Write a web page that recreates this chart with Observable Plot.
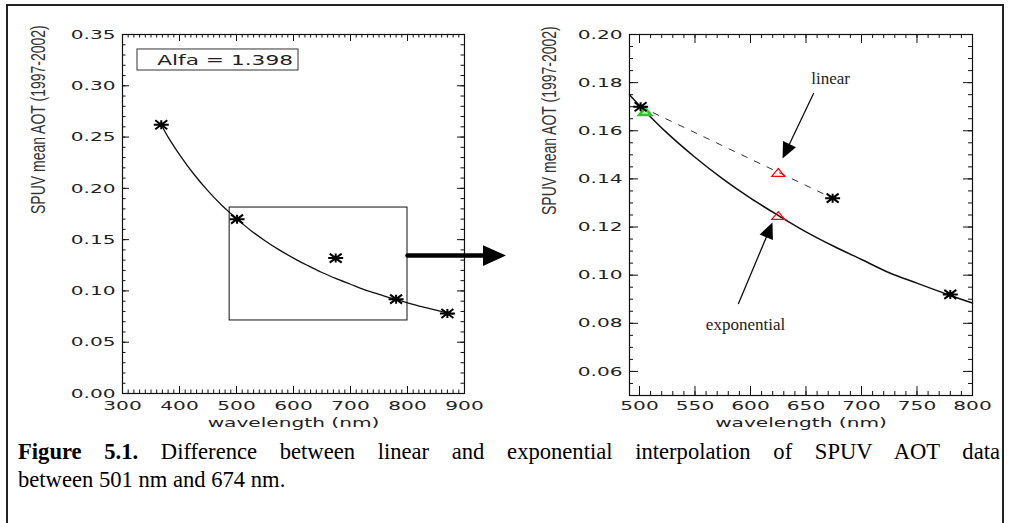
<!DOCTYPE html>
<html><head><meta charset="utf-8">
<script src="https://cdn.jsdelivr.net/npm/d3@7"></script>
<script src="https://cdn.jsdelivr.net/npm/@observablehq/plot@0.6"></script>
<style>
body{margin:0;background:#fff;}
#wrap{position:relative;width:1011px;height:523px;overflow:hidden;background:#fff;}
#wrap > *{position:absolute;}
#border{left:6px;top:4px;width:998px;height:560px;border:2px solid #222;box-sizing:border-box;}
</style></head><body><div id="wrap"><div id="border"></div></div>
<script>
// ---------- data ----------
const obsWavelength = [368, 501, 674, 780, 870];
const obsAot = [0.262, 0.170, 0.132, 0.092, 0.078];
const fitWavelength = [368, 380, 400, 425, 450, 475, 491, 501, 525, 550, 575, 600, 625, 650, 675, 700, 725, 750, 775, 800, 825, 850, 880];
const fitAot = [0.262, 0.250, 0.233, 0.214, 0.1975, 0.183, 0.175, 0.170, 0.159, 0.149, 0.140, 0.132, 0.1248, 0.118, 0.112, 0.1065, 0.101, 0.0967, 0.0924, 0.0884, 0.0846, 0.0812, 0.0774];
const alfaText = "Alfa = 1.398";
const zoomBox = {x1: 488, x2: 800, y1: 0.0712, y2: 0.1813};
const zoomStarWavelength = [501, 674, 780];
const zoomStarAot = [0.170, 0.132, 0.092];
const linearWavelength = [501, 674];
const linearAot = [0.170, 0.132];
const interpWavelength = 625;
const linearInterpAot = 0.1427;
const expInterpAot = 0.1248;
const greenWavelength = 505, greenAot = 0.168;
const yLabel = "SPUV mean AOT (1997-2002)";
const xLabel = "wavelength (nm)";
const captionBold = "Figure 5.1.";
const captionLine1 = " Difference between linear and exponential interpolation of SPUV AOT data";
const captionLine2 = "between 501 nm and 674 nm.";
// left panel ticks
const leftXMajor = [300, 400, 500, 600, 700, 800, 900];
const leftXMinor = d3.range(300, 901, 10);
const leftYMajor = [0, 5, 10, 15, 20, 25, 30, 35].map(v => v / 100);
const leftYMinor = d3.range(0, 36).map(v => v / 100);
// right panel ticks
const rightXMajor = [500, 550, 600, 650, 700, 750, 800];
const rightXMinor = d3.range(500, 801, 10);
const rightYMajor = [6, 8, 10, 12, 14, 16, 18, 20].map(v => v / 100);
const rightYMinor = d3.range(10, 41).map(v => v / 200);
// annotations (data units)
const bigArrow = {x1: 800, x2: 933, y: 0.1345, headX: 952.6};
const linearArrow = {x1: 656.8, y1: 0.1755, x2: 632.0, y2: 0.1515, angle: 115.8, label: "linear", lx: 672.1, ly: 0.1817};
const expArrow = {x1: 589.2, y1: 0.0882, x2: 617.0, y2: 0.1188, angle: -67.2, label: "exponential", lx: 595.5, ly: 0.0795};

// ---------- helpers ----------
const starSymbol = {draw(ctx, size) {
  const r = Math.sqrt(size / Math.PI), w = r, h = r * 0.6;
  ctx.moveTo(-w, 0); ctx.lineTo(w, 0);
  ctx.moveTo(0, -h); ctx.lineTo(0, h);
  ctx.moveTo(-w * 0.8, -h); ctx.lineTo(w * 0.8, h);
  ctx.moveTo(-w * 0.8, h); ctx.lineTo(w * 0.8, -h);
}};
const triSymbol = {draw(ctx, size) {
  const r = Math.sqrt(size / Math.PI);
  ctx.moveTo(0, -r * 0.6); ctx.lineTo(r, r * 0.6); ctx.lineTo(-r, r * 0.6); ctx.closePath();
}};
const headSymbol = {draw(ctx, size) {
  const r = Math.sqrt(size / Math.PI);
  ctx.moveTo(r, 0); ctx.lineTo(-r, -r * 0.9); ctx.lineTo(-r, r * 0.9); ctx.closePath();
}};

const SANS = "DejaVu Sans";
const TICKFS = 13;
function frameTicks(xMaj, xMin, yMaj, yMin, fw, fh, majLen, minLen) {
  const s = {stroke: "#111", strokeWidth: 1};
  return [
    Plot.tickX(xMin, {x: d => d, insetTop: fh - minLen, ...s}),
    Plot.tickX(xMin, {x: d => d, insetBottom: fh - minLen, ...s}),
    Plot.tickX(xMaj, {x: d => d, insetTop: fh - majLen, ...s}),
    Plot.tickX(xMaj, {x: d => d, insetBottom: fh - majLen, ...s}),
    Plot.tickY(yMin, {y: d => d, insetRight: fw - minLen, ...s}),
    Plot.tickY(yMin, {y: d => d, insetLeft: fw - minLen, ...s}),
    Plot.tickY(yMaj, {y: d => d, insetRight: fw - majLen, ...s}),
    Plot.tickY(yMaj, {y: d => d, insetLeft: fw - majLen, ...s})
  ];
}
function tickLabels(xMaj, yMaj, xdy, ydx, yfmt) {
  return [
    Plot.text(xMaj, {x: d => d, text: d => String(d), frameAnchor: "bottom", dy: xdy, fontSize: TICKFS, fontFamily: SANS, fill: "#222", ariaDescription: "stretch"}),
    Plot.text(yMaj, {y: d => d, text: yfmt, frameAnchor: "left", textAnchor: "end", dx: ydx, fontSize: TICKFS, fontFamily: SANS, fill: "#222", ariaDescription: "stretch"})
  ];
}
function axisTitles(ydx, xdy) {
  return [
    Plot.text([yLabel], {text: d => d, frameAnchor: "left", dx: ydx, rotate: -90, fontSize: 14, fontFamily: "Liberation Sans", fill: "#333", ariaDescription: "stretchy"}),
    Plot.text([xLabel], {text: d => d, frameAnchor: "bottom", dy: xdy, fontSize: TICKFS, fontFamily: SANS, fill: "#222", ariaDescription: "stretch"})
  ];
}
function stretch(svg, label, sx) {
  svg.querySelectorAll(`g[aria-description="${label}"] text`).forEach(t => {
    const tr = t.getAttribute("transform") || "";
    const m = tr.match(/^\s*translate\([^)]*\)/);
    if (m) {
      t.setAttribute("transform", m[0] + ` scale(${sx},1)` + tr.slice(m[0].length));
    } else {
      const x = parseFloat(t.getAttribute("x")) || 0, y = parseFloat(t.getAttribute("y")) || 0;
      t.removeAttribute("x"); t.removeAttribute("y");
      t.setAttribute("transform", `translate(${x},${y}) scale(${sx},1) ` + tr);
    }
  });
}

const obs = obsWavelength.map((w, i) => ({w, v: obsAot[i]}));
const fit = fitWavelength.map((w, i) => ({w, v: fitAot[i]}));
const wrap = document.getElementById("wrap");

// ---------- left panel ----------
const L = {width: 510, height: 440, mL: 122, mT: 34, fw: 342, fh: 359};
const left = Plot.plot({
  width: L.width, height: L.height,
  marginLeft: L.mL, marginTop: L.mT, marginRight: L.width - L.mL - L.fw, marginBottom: L.height - L.mT - L.fh,
  style: {background: "transparent", overflow: "visible"},
  x: {domain: [300, 900], axis: null},
  y: {domain: [0, 0.35], axis: null},
  marks: [
    Plot.frame({stroke: "#111", strokeWidth: 1.2}),
    ...frameTicks(leftXMajor, leftXMinor, leftYMajor, leftYMinor, L.fw, L.fh, 7, 3.5),
    ...tickLabels(leftXMajor, leftYMajor, 16, -7, d => d.toFixed(2)),
    ...axisTitles(-84, 33),
    Plot.rect([zoomBox], {x1: "x1", x2: "x2", y1: "y1", y2: "y2", fill: "none", stroke: "#111", strokeWidth: 1}),
    Plot.rect([{x1: 326.3, x2: 608.8, y1: 0.3149, y2: 0.3354}], {x1: "x1", x2: "x2", y1: "y1", y2: "y2", fill: "none", stroke: "#333", strokeWidth: 1}),
    Plot.text([alfaText], {text: d => d, x: 480, y: 0.3251, fontSize: 14, fontFamily: SANS, fill: "#222", ariaDescription: "stretch"}),
    Plot.line(fit, {x: "w", y: "v", curve: "catmull-rom", stroke: "#111", strokeWidth: 1.3}),
    Plot.dot(obs, {x: "w", y: "v", symbol: starSymbol, r: 7.5, stroke: "#000", strokeWidth: 2, fill: "none"}),
    Plot.line([[bigArrow.x1, bigArrow.y], [bigArrow.x2, bigArrow.y]], {stroke: "#000", strokeWidth: 4.5}),
    Plot.dot([[bigArrow.headX, bigArrow.y]], {symbol: headSymbol, r: 11.5, fill: "#000", stroke: "none"})
  ]
});
left.style.left = "0px"; left.style.top = "0px";
wrap.appendChild(left);
stretch(left, "stretch", 1.55);
stretch(left, "stretchy", 1.45);

// ---------- right panel ----------
const zoomStars = zoomStarWavelength.map((w, i) => ({w, v: zoomStarAot[i]}));
const R = {left: 510, width: 501, height: 440, mL: 119, mT: 34, fw: 343, fh: 361};
const right = Plot.plot({
  width: R.width, height: R.height,
  marginLeft: R.mL, marginTop: R.mT, marginRight: R.width - R.mL - R.fw, marginBottom: R.height - R.mT - R.fh,
  style: {background: "transparent", overflow: "visible"},
  x: {domain: [491, 800], axis: null},
  y: {domain: [0.05, 0.20], axis: null},
  marks: [
    Plot.frame({stroke: "#111", strokeWidth: 1.2}),
    ...frameTicks(rightXMajor, rightXMinor, rightYMajor, rightYMinor, R.fw, R.fh, 9, 4),
    ...tickLabels(rightXMajor, rightYMajor, 14, -7, d => d.toFixed(2)),
    ...axisTitles(-80, 31),
    Plot.line(fit.filter(d => d.w >= 491 && d.w <= 800), {x: "w", y: "v", curve: "catmull-rom", stroke: "#111", strokeWidth: 1.5}),
    Plot.line(linearWavelength.map((w, i) => ({w, v: linearAot[i]})), {x: "w", y: "v", stroke: "#333", strokeWidth: 1, strokeDasharray: "6,8"}),
    Plot.dot([{w: greenWavelength, v: greenAot}], {x: "w", y: "v", symbol: triSymbol, r: 6, fill: "#b8f0b8", stroke: "#22cc22", strokeWidth: 2.5}),
    Plot.dot([{w: interpWavelength, v: linearInterpAot}, {w: interpWavelength, v: expInterpAot}], {x: "w", y: "v", symbol: triSymbol, r: 6.5, fill: "none", stroke: "#ff0000", strokeWidth: 1.2}),
    Plot.dot(zoomStars, {x: "w", y: "v", symbol: starSymbol, r: 7.5, stroke: "#000", strokeWidth: 2, fill: "none"}),
    ...[linearArrow, expArrow].flatMap(a => [
      Plot.line([[a.x1, a.y1], [a.x2, a.y2]], {stroke: "#111", strokeWidth: 1.3}),
      Plot.dot([[a.x2, a.y2]], {symbol: headSymbol, r: 8, rotate: a.angle, fill: "#000", stroke: "none"}),
      Plot.text([a.label], {text: d => d, x: a.lx, y: a.ly, fontSize: 17, fontFamily: "Liberation Serif", fill: "#222"})
    ])
  ]
});
right.style.left = R.left + "px"; right.style.top = "0px";
wrap.appendChild(right);
stretch(right, "stretch", 1.55);
stretch(right, "stretchy", 1.45);

// ---------- caption (justified first line, natural last line) ----------
const CAPFS = 22.6;
const cap = d3.create("svg").attr("width", 1011).attr("height", 93)
  .style("left", "0px").style("top", "430px");
wrap.appendChild(cap.node());
const t1 = cap.append("text").attr("font-family", "Liberation Serif").attr("font-size", CAPFS).attr("fill", "#000")
  .attr("transform", "translate(18,29)");
t1.append("tspan").attr("font-weight", "bold").text(captionBold);
t1.append("tspan").text(captionLine1);
cap.append("text").attr("font-family", "Liberation Serif").attr("font-size", CAPFS).attr("fill", "#000")
  .attr("transform", "translate(18,57)").text(captionLine2);
const w1 = t1.node().getBBox().width;
const nSpaces = (captionBold + captionLine1).split(" ").length - 1;
t1.style("word-spacing", ((982 - w1) / nSpaces) + "px");
</script></body></html>
